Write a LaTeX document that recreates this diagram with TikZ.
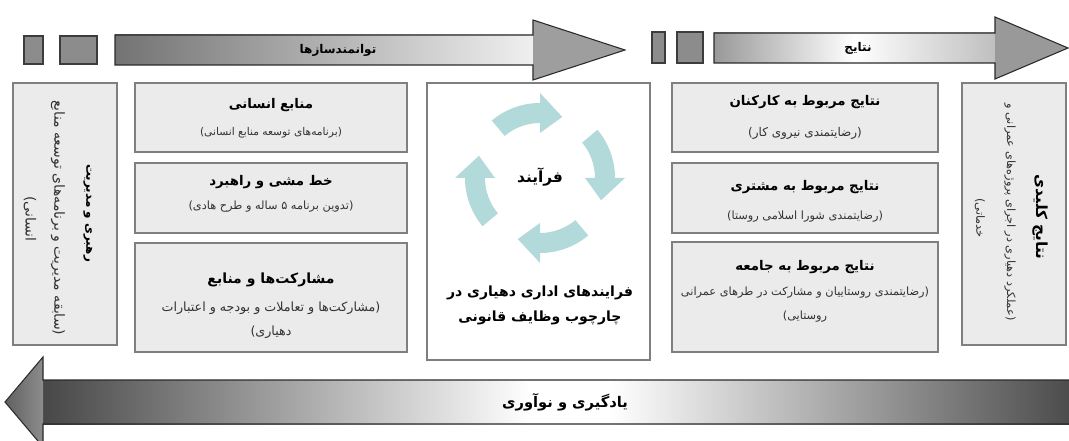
\documentclass[tikz,border=0pt]{standalone}
\usepackage{fontspec}
\usetikzlibrary{fit}
\newfontfamily\fa[Script=Arabic]{DejaVu Sans}
\TeXXeTstate=1
\newcommand\rl[1]{\beginR #1\endR}
\definecolor{boxfill}{HTML}{EBEBEB}
\definecolor{boxline}{HTML}{7F7F7F}
\definecolor{sqfill}{HTML}{8C8C8C}
\definecolor{sqline}{HTML}{3C3C3C}
\definecolor{arrline}{HTML}{2A2A2A}
\definecolor{cyc}{HTML}{B2DADA}
\begin{document}
\begin{tikzpicture}[x=0.75pt,y=-0.75pt,
  box/.style={draw=boxline, fill=boxfill, line width=1pt, inner sep=0pt},
  wbox/.style={draw=boxline, fill=white, line width=1pt, inner sep=0pt},
  sq/.style={draw=sqline, fill=sqfill, line width=0.8pt, inner sep=0pt},
  ttl/.style={font=\fa\bfseries\fontsize{10}{12}\selectfont, inner sep=0pt},
  vttl/.style={font=\fa\bfseries\fontsize{10}{12}\selectfont, inner sep=0pt, rotate=-90},
  sub/.style={font=\fa\fontsize{9}{11}\selectfont, inner sep=0pt, text=black!80},
  vsub/.style={font=\fa\fontsize{10.5}{12}\selectfont, inner sep=0pt, text=black!80, rotate=-90},
  alab/.style={font=\fa\bfseries\fontsize{9}{11}\selectfont, inner sep=0pt},
  aout/.style={draw=arrline, line width=0.8pt, line join=miter},
  cycarr/.style={fill=cyc}
]
\useasboundingbox (0,0) rectangle (1069,441);
\clip (0,0) rectangle (1069,441);
\fill[white] (0,0) rectangle (1069,441);

% top-left arrow
\fill[left color=black!55, right color=black!6] (115,35) rectangle (533,65);
\fill[black!38] (533,20) -- (625,50) -- (533,80) -- cycle;
\draw[aout] (115,35) -- (533,35) -- (533,20) -- (625,50) -- (533,80) -- (533,65) -- (115,65) -- cycle;
\node[sq, fit={(24,36)(43,64)}] (sq1) {};
\node[sq, fit={(60,36)(97,64)}] (sq2) {};
\node[alab] (enab) at (338,50) {\rl{توانمندسازها}};

% top-right arrow
\fill[left color=black!40, right color=black!25, middle color=white] (714,33) rectangle (995,63);
\fill[black!40] (995,17) -- (1068,48) -- (995,79) -- cycle;
\draw[aout] (714,33) -- (995,33) -- (995,17) -- (1068,48) -- (995,79) -- (995,63) -- (714,63) -- cycle;
\node[sq, fit={(652,32)(665,63)}] (sq3) {};
\node[sq, fit={(677,32)(703,63)}] (sq4) {};
\node[alab] (res) at (858,48) {\rl{نتایج}};

% bottom arrow
\fill[left color=black!72, right color=white] (43,380) rectangle (530,424);
\fill[white] (529,380) rectangle (611,424);
\fill[left color=white, right color=black!70] (610,380) rectangle (1069,424);
\fill[left color=black!62, right color=black!45] (5,357) rectangle (43,447);
\fill[white] (5,357) -- (43,357) -- (5,402) -- cycle;
\fill[white] (5,447) -- (43,447) -- (5,402) -- cycle;
\draw[aout] (1075,380) -- (43,380) -- (43,357) -- (5,402) -- (43,447) -- (43,424) -- (1075,424);
\node[alab, font=\fa\bfseries\fontsize{11}{13}\selectfont] (learn) at (565,402) {\rl{یادگیری و نوآوری}};

% boxes
\node[box, fit={(13,83)(117,345)}] (lead) {};
\node[box, fit={(135,83)(407,152)}] (hr) {};
\node[box, fit={(135,163)(407,233)}] (pol) {};
\node[box, fit={(135,243)(407,352)}] (part) {};
\node[wbox, fit={(427,83)(650,360)}] (proc) {};
\node[box, fit={(672,83)(938,152)}] (emp) {};
\node[box, fit={(672,163)(938,233)}] (cust) {};
\node[box, fit={(672,242)(938,352)}] (soc) {};
\node[box, fit={(962,83)(1066,345)}] (key) {};

% left vertical
\node[vttl, font=\fa\bfseries\fontsize{9}{11}\selectfont] (leadT) at (88,213) {\rl{رهبری و مدیریت}};
\node[vsub] (leadS1) at (58,218) {\rl{(سابقه مدیریت و برنامه‌های توسعه منابع}};
\node[vsub] (leadS2) at (30,219) {\rl{انسانی)}};

% right vertical
\node[vttl, font=\fa\bfseries\fontsize{11.5}{13}\selectfont] (keyT) at (1040,217) {\rl{نتایج کلیدی}};
\node[vsub, font=\fa\fontsize{8.5}{10}\selectfont] (keyS1) at (1010,212) {\rl{(عملکرد دهیاری در اجرای پروژه‌های عمرانی و}};
\node[vsub, font=\fa\fontsize{8.5}{10}\selectfont] (keyS2) at (980,218) {\rl{خدماتی)}};

% left column
\node[ttl] (hrT) at (271,105) {\rl{منابع انسانی}};
\node[sub, font=\fa\fontsize{8}{10}\selectfont] (hrS) at (271,133) {\rl{(برنامه‌های توسعه منابع انسانی)}};
\node[ttl] (polT) at (271,182) {\rl{خط مشی و راهبرد}};
\node[sub, font=\fa\fontsize{8.5}{10}\selectfont] (polS) at (271,207) {\rl{(تدوین برنامه ۵ ساله و طرح هادی)}};
\node[ttl, font=\fa\bfseries\fontsize{10.5}{12}\selectfont] (partT) at (271,280) {\rl{مشارکت‌ها و منابع}};
\node[sub, font=\fa\fontsize{9.5}{11}\selectfont] (partS1) at (271,308) {\rl{(مشارکت‌ها و تعاملات و بودجه و اعتبارات}};
\node[sub, font=\fa\fontsize{9.5}{11}\selectfont] (partS2) at (271,332) {\rl{دهیاری)}};

% right column
\node[ttl] (empT) at (805,102) {\rl{نتایج مربوط به کارکنان}};
\node[sub] (empS) at (805,133) {\rl{(رضایتمندی نیروی کار)}};
\node[ttl] (custT) at (805,187) {\rl{نتایج مربوط به مشتری}};
\node[sub, font=\fa\fontsize{8.5}{10}\selectfont] (custS) at (805,217) {\rl{(رضایتمندی شورا اسلامی روستا)}};
\node[ttl] (socT) at (805,267) {\rl{نتایج مربوط به جامعه}};
\node[sub, font=\fa\fontsize{8.5}{10}\selectfont] (socS1) at (805,293) {\rl{(رضایتمندی روستاییان و مشارکت در طرهای عمرانی}};
\node[sub, font=\fa\fontsize{8.5}{10}\selectfont] (socS2) at (805,317) {\rl{روستایی)}};

% process cycle
\begin{scope}[shift={(540,178)}, yscale=-1]
\foreach \b in {90,0,-90,-180}{
  \pgfmathsetmacro\a{\b+40}
  \pgfmathsetmacro\t{\b-20}
  \fill[cycarr] (\a:75) arc[start angle=\a, end angle=\b, radius=75] -- (\b:85) -- (\t:65) -- (\b:45) -- (\b:55) arc[start angle=\b, end angle=\a, radius=55] -- cycle;
}
\end{scope}
\node[ttl, font=\fa\bfseries\fontsize{11.5}{13}\selectfont] (procT) at (540,177) {\rl{فرآیند}};
\node[ttl, font=\fa\bfseries\fontsize{10.5}{12}\selectfont] (procS1) at (540,293) {\rl{فرایندهای اداری دهیاری در}};
\node[ttl, font=\fa\bfseries\fontsize{10.5}{12}\selectfont] (procS2) at (540,318) {\rl{چارچوب وظایف قانونی}};
\end{tikzpicture}
\end{document}
